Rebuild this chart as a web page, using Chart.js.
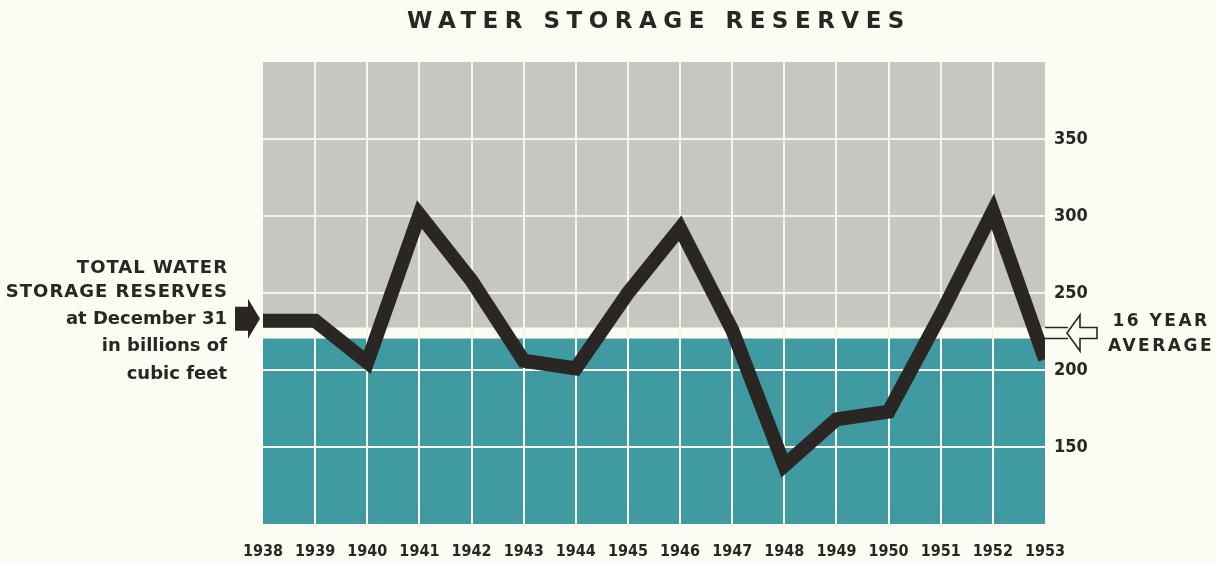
<!DOCTYPE html>
<html>
<head>
<meta charset="utf-8">
<script src="https://cdn.jsdelivr.net/npm/chart.js@4/dist/chart.umd.min.js"></script>
<style>
  html, body { margin: 0; padding: 0; background: #fdfcf3; }
  #wrap { position: relative; width: 1217px; height: 562px; }
</style>
</head>
<body>
<div id="wrap"><canvas id="c" width="1217" height="562"></canvas></div>
<script>
// ---- data ----
const years = ['1938','1939','1940','1941','1942','1943','1944','1945','1946','1947','1948','1949','1950','1951','1952','1953'];
const reserves = [232, 232, 205, 301, 258, 206, 201, 250, 292, 226, 138, 168, 173, 236, 303, 207];
const sixteenYearAverage = [224];
const yTickValues = [150, 200, 250, 300, 350];
const titleText = 'WATER STORAGE RESERVES';
const leftLabel = ['TOTAL WATER', 'STORAGE RESERVES', 'at December 31', 'in billions of', 'cubic feet'];
const rightLabel = ['16 YEAR', 'AVERAGE'];

// ---- style ----
const PAGE = '#fdfcf3';
const GREY = '#c8c6c2';
const TEAL = '#3f9aa1';
const GRID = '#f7f4e8';
const INK = '#2a2624';
const BOLD = '"DejaVu Sans", sans-serif';
const NARROW = '"DejaVu Sans Condensed", "DejaVu Sans", sans-serif';
const BAND_HALF = 5.5;

const decor = {
  id: 'decor',
  beforeDraw(chart) {
    const { ctx, chartArea: a, scales: { y } } = chart;
    const ay = y.getPixelForValue(sixteenYearAverage[0]);
    ctx.save();
    ctx.fillStyle = PAGE;
    ctx.fillRect(0, 0, chart.width, chart.height);
    ctx.fillStyle = GREY;
    ctx.fillRect(a.left, a.top, a.width, ay - BAND_HALF - a.top);
    ctx.fillStyle = TEAL;
    ctx.fillRect(a.left, ay + BAND_HALF, a.width, a.bottom - ay - BAND_HALF);
    ctx.restore();
  },
  afterDraw(chart) {
    const { ctx, chartArea: a, scales: { y } } = chart;
    ctx.save();
    ctx.fillStyle = INK;
    ctx.strokeStyle = INK;
    // title
    ctx.font = 'bold 23px ' + BOLD;
    ctx.textAlign = 'center';
    ctx.textBaseline = 'middle';
    ctx.letterSpacing = '6.5px';
    ctx.fillText(titleText, (a.left + a.right) / 2 + 5, 22);
    // left label
    ctx.textAlign = 'right';
    const lys = [268, 292, 319, 346, 374];
    leftLabel.forEach((t, i) => {
      ctx.font = 'bold 18px ' + BOLD;
      ctx.letterSpacing = i < 2 ? '1px' : '0px';
      ctx.fillText(t, 227 + (i < 2 ? 1 : 0), lys[i]);
    });
    // right label
    ctx.textAlign = 'center';
    ctx.font = 'bold 17px ' + BOLD;
    ctx.letterSpacing = '2.5px';
    ctx.fillText(rightLabel[0], 1161, 322);
    ctx.fillText(rightLabel[1], 1161, 347);
    ctx.letterSpacing = '0px';

    // left solid arrow pointing at first value
    const py = y.getPixelForValue(reserves[0]) - 2;
    ctx.beginPath();
    ctx.moveTo(235, py - 12);
    ctx.lineTo(248, py - 12);
    ctx.lineTo(248, py - 20);
    ctx.lineTo(260, py);
    ctx.lineTo(248, py + 20);
    ctx.lineTo(248, py + 12);
    ctx.lineTo(235, py + 12);
    ctx.closePath();
    ctx.fill();

    // right hollow arrow at average
    const ay = y.getPixelForValue(sixteenYearAverage[0]);
    ctx.lineWidth = 1.6;
    ctx.beginPath();
    ctx.moveTo(a.right, ay - BAND_HALF);
    ctx.lineTo(1068, ay - BAND_HALF);
    ctx.moveTo(a.right, ay + BAND_HALF);
    ctx.lineTo(1068, ay + BAND_HALF);
    ctx.stroke();
    ctx.beginPath();
    ctx.moveTo(1067, ay);
    ctx.lineTo(1080, ay - 18);
    ctx.lineTo(1080, ay - BAND_HALF);
    ctx.lineTo(1097, ay - BAND_HALF);
    ctx.lineTo(1097, ay + BAND_HALF);
    ctx.lineTo(1080, ay + BAND_HALF);
    ctx.lineTo(1080, ay + 18);
    ctx.closePath();
    ctx.fillStyle = PAGE;
    ctx.fill();
    ctx.stroke();
    ctx.restore();
  }
};

new Chart(document.getElementById('c'), {
  type: 'line',
  data: {
    labels: years,
    datasets: [{
      data: reserves,
      borderColor: INK,
      borderWidth: 14,
      borderJoinStyle: 'miter',
      borderCapStyle: 'butt',
      pointRadius: 0,
      tension: 0,
      fill: false,
      clip: 0
    }]
  },
  options: {
    responsive: false,
    animation: false,
    layout: { padding: { left: 263, top: 62, right: 0, bottom: 0 } },
    plugins: { legend: { display: false }, tooltip: { enabled: false }, title: { display: false } },
    scales: {
      x: {
        offset: false,
        border: { display: false },
        grid: {
          color: (c) => (c.index === 0 || c.index === years.length - 1) ? 'rgba(0,0,0,0)' : GRID,
          lineWidth: 2,
          drawTicks: false
        },
        ticks: {
          color: INK,
          font: { family: NARROW, size: 16, weight: 'bold' },
          padding: 18,
          maxRotation: 0,
          autoSkip: false
        },
        afterFit: (s) => { s.height = 38; }
      },
      y: {
        position: 'right',
        min: 100,
        max: 400,
        border: { display: false },
        grid: {
          color: (c) => yTickValues.includes(c.tick.value) ? GRID : 'rgba(0,0,0,0)',
          lineWidth: 2,
          drawTicks: false
        },
        ticks: {
          stepSize: 50,
          color: INK,
          font: { family: NARROW, size: 18, weight: 'bold' },
          padding: 9,
          callback: (v) => yTickValues.includes(v) ? String(v) : ''
        },
        afterFit: (s) => { s.width = 1217 - 1045; }
      }
    }
  },
  plugins: [decor]
});
</script>
</body>
</html>
